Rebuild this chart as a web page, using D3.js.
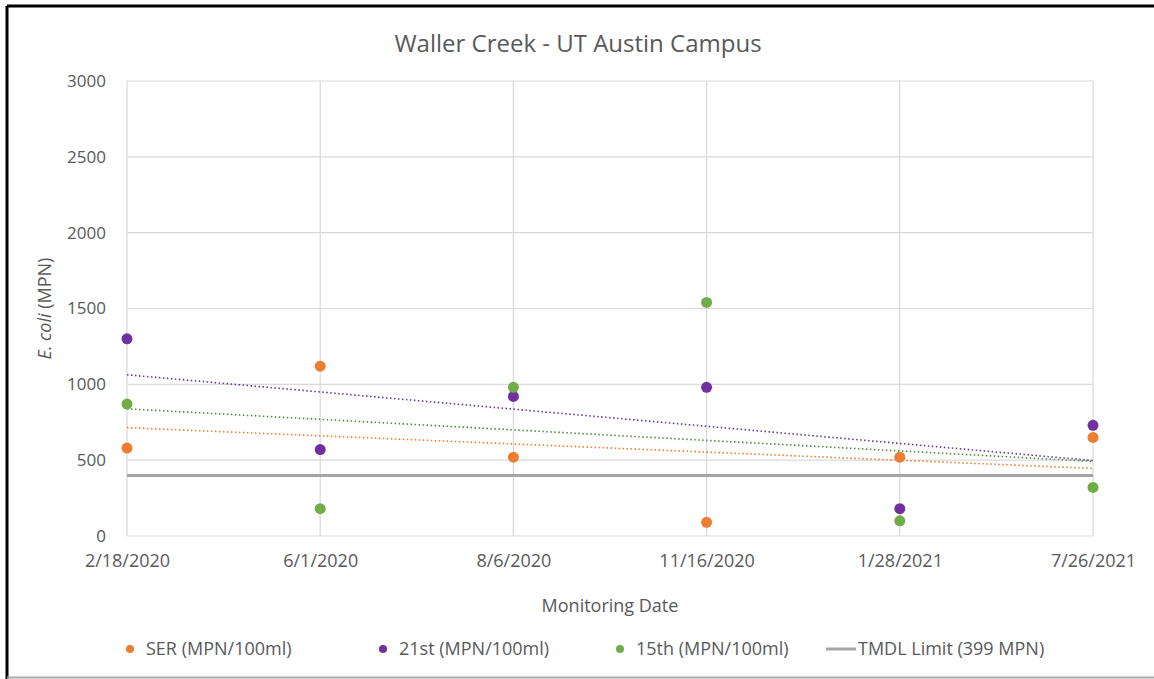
<!DOCTYPE html>
<html>
<head>
<meta charset="utf-8">
<script src="https://cdn.jsdelivr.net/npm/d3@7"></script>
<style>
  body { margin: 0; background: #fff; }
  text { font-family: "Open Sans", sans-serif; fill: #595959; }
</style>
</head>
<body>
<div id="chart"></div>
<script>
// data
const dates = ["2/18/2020", "6/1/2020", "8/6/2020", "11/16/2020", "1/28/2021", "7/26/2021"];
const serValues = [580, 1120, 520, 90, 520, 650];
const st21Values = [1300, 570, 920, 980, 180, 730];
const st15Values = [870, 180, 980, 1540, 100, 320];
const tmdlLimit = 399;
const yTicks = [0, 500, 1000, 1500, 2000, 2500, 3000];

const series = [
    {name: "SER (MPN/100ml)", values: serValues, color: "#ED7D31", trend: "#ED7D31"},
    {name: "21st (MPN/100ml)", values: st21Values, color: "#7030A0", trend: "#5b3a9a"},
    {name: "15th (MPN/100ml)", values: st15Values, color: "#70AD47", trend: "#4f8a3a"}
];

const W = 1154, H = 679;
const margin = {left: 127, right: 61, top: 81, bottom: 143};

const svg = d3.select("#chart").append("svg")
    .attr("width", W)
    .attr("height", H);

// frame (black top/left, grey bottom)
svg.append("rect").attr("x", 0).attr("y", 0).attr("width", W).attr("height", H).attr("fill", "#fff");
svg.append("line").attr("x1", 7).attr("x2", W).attr("y1", 6).attr("y2", 6)
    .attr("stroke", "#000").attr("stroke-width", 3);
svg.append("line").attr("x1", 7).attr("x2", 7).attr("y1", 6).attr("y2", H)
    .attr("stroke", "#000").attr("stroke-width", 3);
svg.append("line").attr("x1", 7).attr("x2", W).attr("y1", 677.5).attr("y2", 677.5)
    .attr("stroke", "#aaa").attr("stroke-width", 2);

const x = d3.scalePoint()
    .domain(dates)
    .range([margin.left, W - margin.right]);
const y = d3.scaleLinear()
    .domain([0, 3000])
    .range([H - margin.bottom, margin.top]);

// gridlines
svg.append("g").selectAll("line.hgrid")
    .data(yTicks)
    .enter().append("line")
    .attr("class", "hgrid")
    .attr("x1", x.range()[0]).attr("x2", x.range()[1])
    .attr("y1", d => y(d)).attr("y2", d => y(d))
    .attr("stroke", "#d9d9d9").attr("stroke-width", 1.2);
svg.append("g").selectAll("line.vgrid")
    .data(dates)
    .enter().append("line")
    .attr("class", "vgrid")
    .attr("x1", d => x(d)).attr("x2", d => x(d))
    .attr("y1", y(0)).attr("y2", y(3000))
    .attr("stroke", "#d9d9d9").attr("stroke-width", 1.2);

// axes
const yAxis = d3.axisLeft(y).tickValues(yTicks).tickFormat(d3.format("d")).tickSize(0).tickPadding(21);
svg.append("g")
    .attr("transform", `translate(${margin.left},0)`)
    .call(yAxis)
    .call(g => g.select(".domain").remove())
    .selectAll("text")
    .style("font-size", "17px").attr("fill", "#595959");

const xAxis = d3.axisBottom(x).tickSize(0).tickPadding(18);
svg.append("g")
    .attr("transform", `translate(0,${y(0)})`)
    .call(xAxis)
    .call(g => g.select(".domain").remove())
    .selectAll("text")
    .style("font-size", "18px").attr("fill", "#595959");

// TMDL limit line
svg.append("line")
    .attr("x1", x(dates[0])).attr("x2", x(dates[dates.length - 1]))
    .attr("y1", y(tmdlLimit)).attr("y2", y(tmdlLimit))
    .attr("stroke", "#a5a5a5").attr("stroke-width", 3);

// linear trendlines (least squares on category index, as Excel does)
function trend(values) {
    const n = values.length;
    const xs = d3.range(1, n + 1);
    const mx = d3.mean(xs), my = d3.mean(values);
    let sxy = 0, sxx = 0;
    xs.forEach((xi, i) => { sxy += (xi - mx) * (values[i] - my); sxx += (xi - mx) * (xi - mx); });
    const b = sxy / sxx, a = my - b * mx;
    return [a + b * 1, a + b * n];
}

series.forEach(s => {
    const t = trend(s.values);
    svg.append("line")
        .attr("x1", x(dates[0])).attr("x2", x(dates[dates.length - 1]))
        .attr("y1", y(t[0])).attr("y2", y(t[1]))
        .attr("stroke", s.trend).attr("stroke-width", 1.6)
        .attr("stroke-dasharray", "1.5,2.5");
});

// points
series.forEach(s => {
    svg.append("g").selectAll("circle")
        .data(s.values)
        .enter().append("circle")
        .attr("cx", (d, i) => x(dates[i]))
        .attr("cy", d => y(d))
        .attr("r", 5.5)
        .attr("fill", s.color);
});

// title
svg.append("text")
    .attr("x", 578).attr("y", 52)
    .attr("text-anchor", "middle")
    .style("font-size", "24px")
    .attr("fill", "#404040")
    .text("Waller Creek - UT Austin Campus");

// axis titles
svg.append("text")
    .attr("x", (x.range()[0] + x.range()[1]) / 2).attr("y", 612)
    .attr("text-anchor", "middle")
    .style("font-size", "18px")
    .text("Monitoring Date");

const yt = svg.append("text")
    .attr("transform", `translate(51, ${y(1500)}) rotate(-90)`)
    .attr("text-anchor", "middle")
    .style("font-size", "18px");
yt.append("tspan").style("font-style", "italic").text("E. coli");
yt.append("tspan").text(" (MPN)");

// legend
const legendX = [130, 383, 620];
series.forEach((s, i) => {
    svg.append("circle")
        .attr("cx", legendX[i]).attr("cy", 649).attr("r", 4)
        .attr("fill", s.color);
    svg.append("text")
        .attr("x", legendX[i] + 16).attr("y", 655)
        .style("font-size", "18px")
        .text(s.name);
});
svg.append("line")
    .attr("x1", 826).attr("x2", 856).attr("y1", 649).attr("y2", 649)
    .attr("stroke", "#a5a5a5").attr("stroke-width", 3);
svg.append("text")
    .attr("x", 858).attr("y", 655)
    .style("font-size", "18px")
    .text("TMDL Limit (399 MPN)");
</script>
</body>
</html>
